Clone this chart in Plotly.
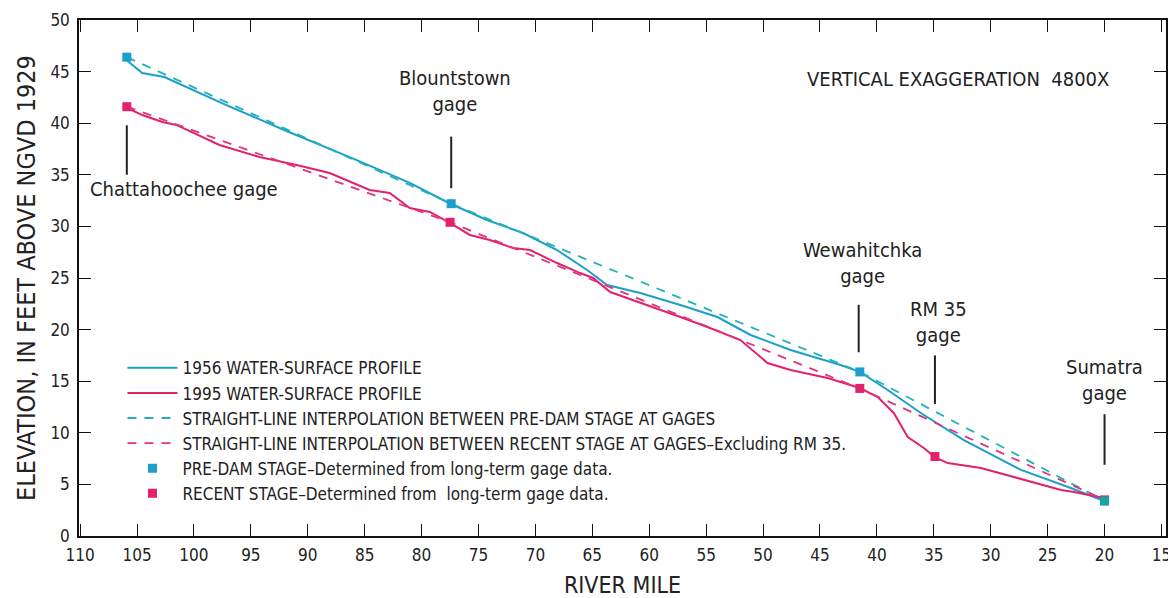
import plotly.graph_objects as go

# ---------------- data ----------------
mile_1956 = [105.95, 104.54, 102.6, 97.15, 91.87, 86.32, 81.04, 77.43, 74.26, 71.09,
             68.1, 65.46, 63.7, 60.79, 57.27, 54.01, 51.1, 47.59, 43.19, 41.5,
             39.05, 36.14, 32.36, 27.34, 23.2, 22.06, 20.04]
elev_1956 = [46.12, 44.86, 44.48, 41.76, 39.24, 36.72, 34.21, 32.17, 30.62, 29.36,
             27.71, 25.78, 24.32, 23.55, 22.38, 21.22, 19.48, 18.02, 16.57, 15.9,
             14.15, 11.92, 9.30, 6.40, 4.75, 4.26, 3.39]

mile_1995 = [105.86, 104.54, 102.78, 101.55, 97.76, 94.24, 90.99, 88.08, 84.56, 82.8,
             81.04, 79.28, 77.52, 75.76, 74.0, 71.97, 70.47, 68.1, 66.07, 64.93,
             63.43, 61.41, 59.65, 57.27, 54.89, 51.99, 49.61, 47.59, 44.33, 42.92,
             41.5, 39.93, 38.52, 37.29, 35.88, 34.91, 33.77, 30.86, 27.96, 26.46,
             23.82, 22.68, 20.04]
elev_1995 = [41.47, 40.79, 40.12, 39.83, 37.89, 36.72, 35.95, 35.17, 33.53, 33.24,
             31.78, 31.4, 30.33, 29.17, 28.68, 27.91, 27.71, 26.45, 25.48, 25.0,
             23.64, 22.87, 22.19, 21.22, 20.25, 18.99, 16.76, 16.09, 15.31, 14.83,
             14.34, 13.47, 11.92, 9.59, 8.53, 7.65, 7.07, 6.59, 5.72, 5.23,
             4.46, 4.26, 3.68]

# gage stages
predam_mile = [105.9, 77.4, 41.5, 20.0]
predam_stage = [46.4, 32.2, 15.9, 3.4]
recent_mile = [105.9, 77.5, 41.5, 34.9, 20.0]
recent_stage = [41.6, 30.4, 14.3, 7.7, 3.5]
# recent interpolation excludes RM 35
recent_interp_mile = [105.9, 77.5, 41.5, 20.0]
recent_interp_stage = [41.6, 30.4, 14.3, 3.5]

gage_names = ["Chattahoochee gage", "Blountstown<br>gage", "Wewahitchka<br>gage",
              "RM 35<br>gage", "Sumatra<br>gage"]
gage_label_mile = [100.85, 77.1, 41.3, 34.6, 20.0]
gage_label_elev = [33.6, 43.1, 26.5, 20.7, 15.1]
gage_line_mile = [105.9, 77.4, 41.6, 34.9, 20.0]
gage_line_y0 = [35.0, 33.7, 17.8, 12.8, 6.9]
gage_line_y1 = [39.8, 38.7, 22.4, 17.5, 11.8]

x_ticks = list(range(110, 14, -5))
y_ticks = list(range(0, 51, 5))

CYAN = "#1c9fcb"
CYAN_D = "#1fb3b8"
MAG = "#e2226c"
MAG_D = "#e0357e"
FONT = "Liberation Sans Narrow, Arial Narrow, DejaVu Sans Condensed, sans-serif"

fig = go.Figure()
fig.add_trace(go.Scatter(x=mile_1956, y=elev_1956, mode="lines",
                         line=dict(color=CYAN, width=2),
                         name="1956 WATER-SURFACE PROFILE"))
fig.add_trace(go.Scatter(x=mile_1995, y=elev_1995, mode="lines",
                         line=dict(color=MAG, width=2),
                         name="1995 WATER-SURFACE PROFILE"))
fig.add_trace(go.Scatter(x=predam_mile, y=predam_stage, mode="lines",
                         line=dict(color=CYAN_D, width=1.8, dash="9px,8px"),
                         name="STRAIGHT-LINE INTERPOLATION BETWEEN PRE-DAM STAGE AT GAGES"))
fig.add_trace(go.Scatter(x=recent_interp_mile, y=recent_interp_stage, mode="lines",
                         line=dict(color=MAG_D, width=1.8, dash="9px,8px"),
                         name="STRAIGHT-LINE INTERPOLATION BETWEEN RECENT STAGE AT GAGES\u2013Excluding RM 35."))
fig.add_trace(go.Scatter(x=predam_mile, y=predam_stage, mode="markers",
                         marker=dict(color=CYAN, size=9, symbol="square"),
                         name="PRE-DAM STAGE\u2013Determined from long-term gage data."))
fig.add_trace(go.Scatter(x=recent_mile, y=recent_stage, mode="markers",
                         marker=dict(color=MAG, size=9, symbol="square"),
                         name="RECENT STAGE\u2013Determined from  long-term gage data."))
# Sumatra pre-dam marker drawn on top (as in reference)
fig.add_trace(go.Scatter(x=predam_mile[-1:], y=predam_stage[-1:], mode="markers",
                         marker=dict(color="#19a59e", size=9, symbol="square"),
                         showlegend=False, hoverinfo="skip"))

for name, lx, ly, gx, y0, y1 in zip(gage_names, gage_label_mile, gage_label_elev,
                                     gage_line_mile, gage_line_y0, gage_line_y1):
    fig.add_annotation(x=lx, y=ly, text=name, showarrow=False,
                       font=dict(family=FONT, size=20, color="#222"))
    fig.add_shape(type="line", x0=gx, x1=gx, y0=y0, y1=y1,
                  line=dict(color="#222", width=2))

fig.add_annotation(x=32.9, y=44.3, text="VERTICAL EXAGGERATION  4800X", showarrow=False,
                   font=dict(family=FONT, size=20, color="#222"))

axis_common = dict(showline=True, linecolor="#111", linewidth=1.5, mirror="ticks",
                   ticks="inside", ticklen=12, tickcolor="#111", tickwidth=1.2,
                   showgrid=False, zeroline=False,
                   tickfont=dict(family=FONT, size=17, color="#222"))

# the page body adds an 8px offset (top/left); sizes/margins compensate for it
fig.update_layout(
    width=1168, height=590,
    margin=dict(l=71, r=10, t=12, b=62),
    paper_bgcolor="white", plot_bgcolor="white",
    font=dict(family=FONT, color="#222"),
    xaxis=dict(range=[110.1, 14.6], tickvals=x_ticks, ticklabelstandoff=3, automargin=False,
               title=dict(text="RIVER MILE", font=dict(family=FONT, size=23), standoff=30),
               **axis_common),
    yaxis=dict(range=[0, 50], tickvals=y_ticks, ticklabelstandoff=4, automargin=False,
               title=dict(text="ELEVATION, IN FEET ABOVE NGVD 1929",
                          font=dict(family=FONT, size=25), standoff=8),
               **axis_common),
    legend=dict(x=0.04, y=0.36, xanchor="left", yanchor="top",
                bgcolor="rgba(0,0,0,0)", font=dict(family=FONT, size=17, color="#222"),
                tracegroupgap=0, itemwidth=50),
    showlegend=True,
)

fig.write_html("out.html")
